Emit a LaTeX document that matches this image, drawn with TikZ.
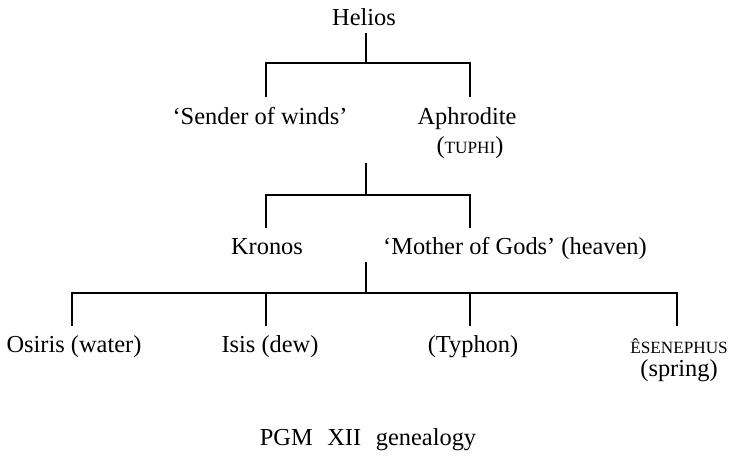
\documentclass[tikz,border=0pt]{standalone}
\usepackage{fontspec}
\setmainfont{Liberation Serif}
\newcommand\fakesc[1]{{\fontsize{8.6}{10}\selectfont #1}}
\begin{document}
\begin{tikzpicture}[x=0.5pt,y=-0.5pt,
  lbl/.style={inner sep=0pt,anchor=base,font=\fontsize{12.2}{14}\selectfont},
  tree/.style={line width=0.6pt,draw=black}]
\useasboundingbox (0,0) rectangle (731,457);
% text nodes
\node[lbl] (helios) at (364,25) {Helios};
\node[lbl] (sender) at (260,124) {‘Sender of winds’};
\node[lbl] (aphro) at (467,124) {Aphrodite};
\node[lbl] (tuphi) at (470,153) {(\fakesc{TUPHI})};
\node[lbl] (kronos) at (267,254) {Kronos};
\node[lbl] (mother) at (515,254) {‘Mother of Gods’ (heaven)};
\node[lbl] (osiris) at (74,352) {Osiris (water)};
\node[lbl] (isis) at (270,352) {Isis (dew)};
\node[lbl] (typhon) at (473,352) {(Typhon)};
\node[lbl] (esen) at (679,353) {\fakesc{ÊSENEPHUS}};
\node[lbl] (spring) at (679,376) {(spring)};
\node[lbl] (caption) at (368,445) {PGM\hspace{0.6em}XII\hspace{0.6em}genealogy};
% junction coordinates
\coordinate (hb) at (366,33);
\coordinate (j1) at (366,63);
\coordinate (st) at (266,97);
\coordinate (at) at (470,97);
\coordinate (m1) at (366,163);
\coordinate (j2) at (366,195);
\coordinate (kt) at (266,228);
\coordinate (mt) at (470,228);
\coordinate (m2) at (366,262);
\coordinate (j3) at (366,293);
\coordinate (ot) at (72,326);
\coordinate (it) at (266,326);
\coordinate (tt) at (470,326);
\coordinate (et) at (677,326);
% connectors
\draw[tree] (hb) -- (j1);
\draw[tree] (st) |- (j1) -| (at);
\draw[tree] (m1) -- (j2);
\draw[tree] (kt) |- (j2) -| (mt);
\draw[tree] (m2) -- (j3);
\draw[tree] (ot) |- (j3) -| (et);
\draw[tree] (it) -- (it |- j3);
\draw[tree] (tt) -- (tt |- j3);
\end{tikzpicture}
\end{document}
